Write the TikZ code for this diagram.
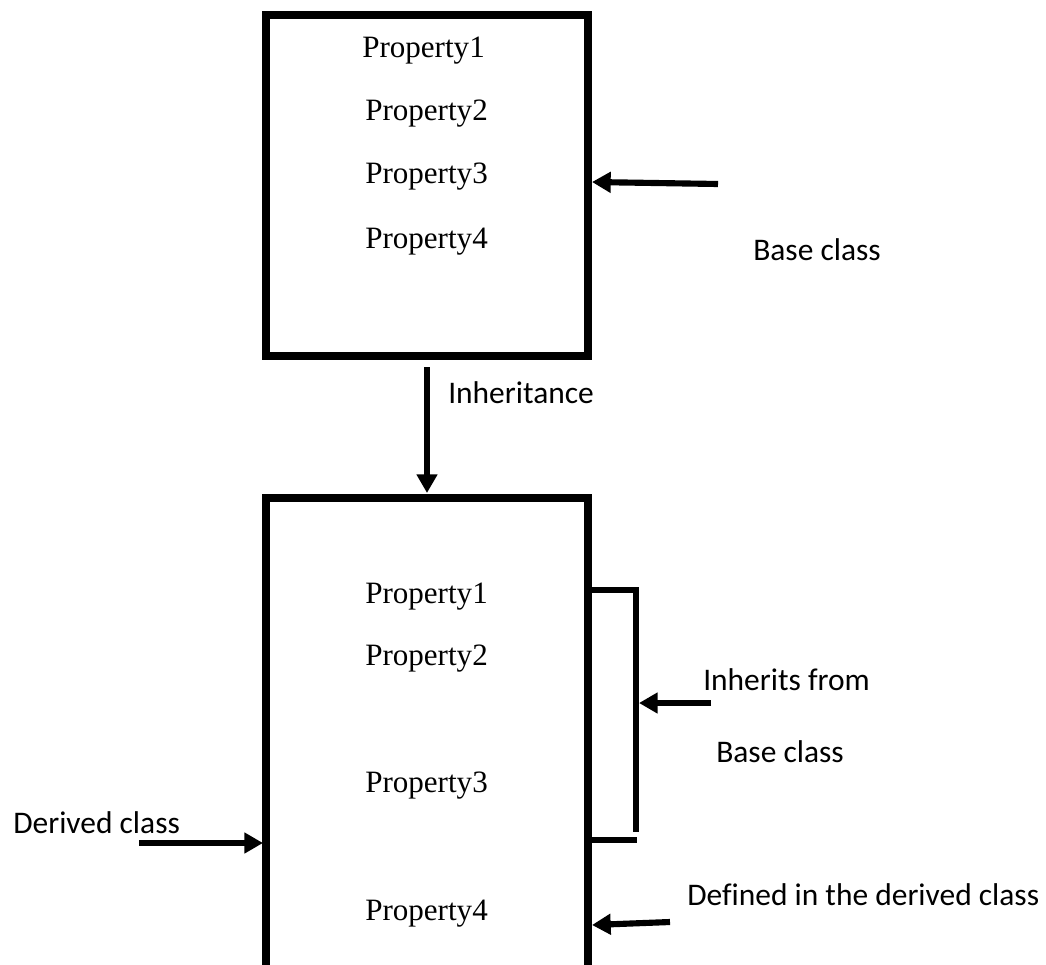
\documentclass[tikz,border=0pt]{standalone}
\usepackage{fontspec}
\setmainfont{Liberation Serif}
\newfontfamily\lblfont[Ligatures=NoCommon]{Carlito}
\usetikzlibrary{arrows.meta}

\tikzset{
  classbox/.style={line width=5.3pt},
  bracket/.style={line width=4.8pt},
  ptr/.style={line width=4.6pt, -{Triangle[length=14pt,width=15pt]}},
  prop/.style={anchor=base west, inner sep=0pt, font=\fontsize{23.3}{28}\selectfont},
  lbl/.style={anchor=base west, inner sep=0pt, font=\lblfont\fontsize{23.6}{28}\selectfont},
}

\begin{document}
\begin{tikzpicture}[x=0.75pt, y=-0.75pt]
\useasboundingbox (0,0) rectangle (1046,964);
\clip (0,0) rectangle (1046,964);
\fill[white] (0,0) rectangle (1046,964);

% base class box
\coordinate (bTL) at (266,15);
\coordinate (bBR) at (588,356);
\draw[classbox] (bTL) rectangle (bBR);
\node[prop] (b1) at (362,57)  {Property1};
\node[prop] (b2) at (365,120) {Property2};
\node[prop] (b3) at (365,183) {Property3};
\node[prop] (b4) at (365,248) {Property4};

% derived class box (runs past the lower edge)
\coordinate (dTL) at (266,498);
\coordinate (dBR) at (588,1000);
\draw[classbox] (dTL) rectangle (dBR);
\node[prop] (d1) at (365,603) {Property1};
\node[prop] (d2) at (365,665) {Property2};
\node[prop] (d3) at (365,792) {Property3};
\node[prop] (d4) at (365,920) {Property4};

% inheritance arrow between the boxes
\coordinate (inhS) at (427,367);
\coordinate (inhE) at (427,493);
\draw[ptr] (inhS) -- (inhE);
\node[lbl] (inh) at (448,403) {Inheritance};

% base class pointer
\coordinate (bcS) at (718,184);
\coordinate (bcE) at (592,182);
\draw[ptr] (bcS) -- (bcE);
\node[lbl] (bc) at (753,260) {Base class};

% bracket over the inherited properties
\coordinate (brT0) at (588,590);
\coordinate (brT1) at (639,590);
\coordinate (brV0) at (636,587);
\coordinate (brV1) at (636,832);
\coordinate (brB0) at (588,840);
\coordinate (brB1) at (637,840);
\draw[bracket] (brT0) -- (brT1);
\draw[bracket] (brV0) -- (brV1);
\draw[bracket] (brB0) -- (brB1);

\coordinate (ihS) at (711,703);
\coordinate (ihE) at (639,703);
\draw[ptr] (ihS) -- (ihE);
\node[lbl] (ih1) at (703,690) {Inherits from};
\node[lbl] (ih2) at (716,762) {Base class};

% derived class pointer
\coordinate (dcS) at (139,843);
\coordinate (dcE) at (263,843);
\draw[ptr] (dcS) -- (dcE);
\node[lbl] (dc) at (13,833) {Derived class};

% own property pointer
\coordinate (dfS) at (670,922);
\coordinate (dfE) at (592,925);
\draw[ptr] (dfS) -- (dfE);
\node[lbl] (df) at (687,905) {Defined in the derived class};
\end{tikzpicture}
\end{document}
